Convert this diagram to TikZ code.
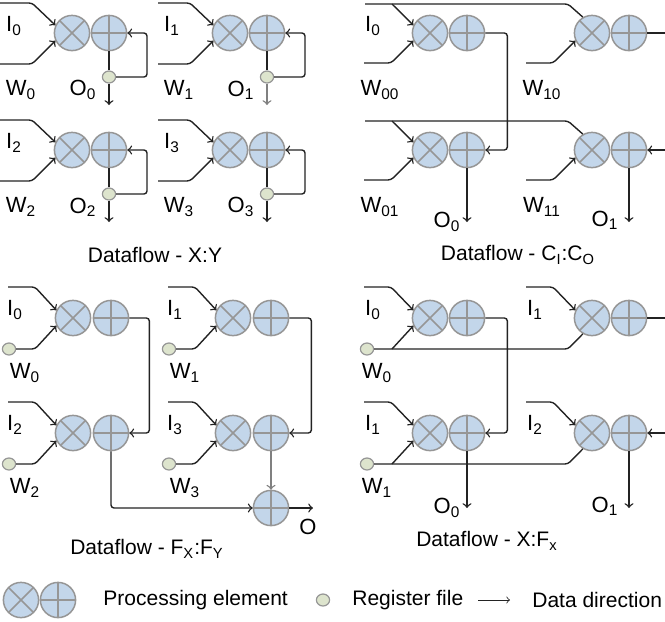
\documentclass[tikz,border=0pt]{standalone}
\usepackage{fontspec}
\setmainfont{Liberation Sans}
\usetikzlibrary{shapes.geometric}
\definecolor{pefill}{RGB}{195,214,234}
\definecolor{peline}{RGB}{150,150,150}
\definecolor{rffill}{RGB}{221,228,205}
\definecolor{wirecol}{RGB}{35,35,35}
\tikzset{
  pe/.style={circle, draw=peline, fill=pefill, line width=0.75pt, minimum size=17.6pt, inner sep=0pt},
  mul/.style={pe, path picture={\draw[peline, line width=0.75pt]
      (path picture bounding box.north west) -- (path picture bounding box.south east)
      (path picture bounding box.north east) -- (path picture bounding box.south west);}},
  add/.style={pe, path picture={\draw[peline, line width=0.75pt]
      (path picture bounding box.north) -- (path picture bounding box.south)
      (path picture bounding box.west) -- (path picture bounding box.east);}},
  rf/.style={ellipse, draw=peline, fill=rffill, line width=0.6pt, minimum width=6.6pt, minimum height=6pt, inner sep=0pt},
  wire/.style={draw=wirecol, line width=0.7pt, rounded corners=1.5pt},
  lbl/.style={inner sep=0pt, font=\fontsize{11}{13}\selectfont},
  ttl/.style={inner sep=0pt, font=\fontsize{10.5}{12}\selectfont}
}
\begin{document}
\begin{tikzpicture}[x=0.5pt, y=-0.5pt]
   \useasboundingbox (0,0) rectangle (665,622);
   % Dataflow - X:Y
   \foreach \mx/\my/\n/\oc in {72/33/0/wirecol, 230/33/1/gray, 72/150/2/wirecol, 230/150/3/wirecol} {
      \node[mul] (aM\n) at (\mx,\my) {};
      \node[add] (aA\n) at (\mx+37,\my) {};
      \node[rf]  (aR\n) at (\mx+37,\my+44) {};
      \coordinate (aI\n) at (\mx-72,\my-30);
      \coordinate (aW\n) at (\mx-72,\my+31);
      \coordinate (aO\n) at (\mx+37,\my+72);
      \draw[wire,->] (aI\n) -- ++(32,0) -- (aM\n.155);
      \draw[wire,->] (aW\n) -- ++(32,0) -- (aM\n.205);
      \draw[wire] (aA\n.south) -- (aR\n.north);
      \draw[wire,->] (aR\n.east) -- (\mx+75,\my+44) -- (\mx+75,\my) -- (aA\n.east);
      \draw[wire,->,draw=\oc] (aR\n.south) -- (aO\n);
      \node[lbl] (aIl\n) at (\mx-58,\my-7) {I\textsubscript{\n}};
      \node[lbl] (aWl\n) at (\mx-51,\my+57) {W\textsubscript{\n}};
      \node[lbl] (aOl\n) at (\mx+11,\my+57) {O\textsubscript{\n}};
   }
   \node[ttl] (aT) at (155,255) {Dataflow - X:Y};
   % Dataflow - CI:CO
   \foreach \mx/\my/\n in {430/33/00, 592/33/10, 430/150/01, 592/150/11} {
      \node[mul] (bM\n) at (\mx,\my) {};
      \node[add] (bA\n) at (\mx+37,\my) {};
      \coordinate (bW\n) at (\mx-66,\my+30);
      \draw[wire,->] (bW\n) -- ++(27,0) -- (bM\n.205);
      \node[lbl] (bWl\n) at (\mx-50,\my+57) {W\textsubscript{\n}};
   }
   \foreach \my/\rw in {33/0, 150/1} {
      \coordinate (bI\rw) at (365,\my-29);
      \coordinate (bJ\rw) at (392,\my-29);
      \draw[wire] (bI\rw) -- (568,\my-29) -- (bM1\rw.120);
      \draw[wire,->] (bJ\rw) -- (bM0\rw.155);
   }
   \draw[wire,->] (bA00.east) -- ++(22,0) |- (bA01.east);
   \coordinate (bE0) at (665,33);
   \coordinate (bE1) at (665,150);
   \draw[wire] (bA10.east) -- (bE0);
   \draw[wire,->] (bE1) -- (bA11.east);
   \coordinate (bO0) at (467,222);
   \coordinate (bO1) at (629,222);
   \draw[wire,->] (bA01.south) -- (bO0);
   \draw[wire,->] (bA11.south) -- (bO1);
   \node[lbl] (bIl) at (373,26) {I\textsubscript{0}};
   \node[lbl] (bOl0) at (447,222) {O\textsubscript{0}};
   \node[lbl] (bOl1) at (605,220) {O\textsubscript{1}};
   \node[ttl] (bT) at (518,255) {Dataflow - C\textsubscript{I}:C\textsubscript{O}};
   % Dataflow - FX:FY
   \foreach \mx/\my/\n in {73/318/0, 233/318/1, 73/433/2, 233/433/3} {
      \node[mul] (cM\n) at (\mx,\my) {};
      \node[add] (cA\n) at (\mx+38,\my) {};
      \node[rf]  (cR\n) at (\mx-64,\my+31) {};
      \coordinate (cI\n) at (\mx-65,\my-31);
      \draw[wire,->] (cI\n) -- ++(27,0) -- (cM\n.155);
      \draw[wire,->] (cR\n.east) -- (\mx-38,\my+31) -- (cM\n.205);
      \node[lbl] (cIl\n) at (\mx-58,\my-8) {I\textsubscript{\n}};
      \node[lbl] (cWl\n) at (\mx-48,\my+55) {W\textsubscript{\n}};
   }
   \draw[wire,->] (cA0.east) -- ++(20,0) |- (cA2.east);
   \draw[wire,->] (cA1.east) -- ++(22,0) |- (cA3.east);
   \node[add] (cF) at (271,508) {};
   \draw[wire,->] (cA2.south) |- (cF.west);
   \draw[wire,->,draw=gray] (cA3.south) -- (cF.north);
   \coordinate (cO) at (313,508);
   \draw[wire,->] (cF.east) -- (cO);
   \node[lbl] (cOl) at (308,527) {O};
   \node[ttl] (cT) at (147,549) {Dataflow - F\textsubscript{X}:F\textsubscript{Y}};
   % Dataflow - X:Fx
   \foreach \mx/\my/\n/\i in {430/318/00/0, 592/318/10/1, 430/433/01/1, 592/433/11/2} {
      \node[mul] (dM\n) at (\mx,\my) {};
      \node[add] (dA\n) at (\mx+37,\my) {};
      \coordinate (dI\n) at (\mx-66,\my-31);
      \draw[wire,->] (dI\n) -- ++(27,0) -- (dM\n.155);
      \node[lbl] (dIl\n) at (\mx-57,\my-8) {I\textsubscript{\i}};
   }
   \foreach \my/\rw in {318/0, 433/1} {
      \node[rf] (dR\rw) at (367,\my+31) {};
      \coordinate (dJ\rw) at (392,\my+31);
      \draw[wire] (dR\rw.east) -- (568,\my+31) -- (dM1\rw.240);
      \draw[wire,->] (dJ\rw) -- (dM0\rw.205);
      \node[lbl] (dWl\rw) at (377,\my+55) {W\textsubscript{\rw}};
   }
   \draw[wire,->] (dA00.east) -- ++(22,0) |- (dA01.east);
   \coordinate (dE0) at (665,318);
   \coordinate (dE1) at (665,433);
   \draw[wire] (dA10.east) -- (dE0);
   \draw[wire,->] (dE1) -- (dA11.east);
   \coordinate (dO0) at (467,508);
   \coordinate (dO1) at (629,508);
   \draw[wire,->] (dA01.south) -- (dO0);
   \draw[wire,->] (dA11.south) -- (dO1);
   \node[lbl] (dOl0) at (447,508) {O\textsubscript{0}};
   \node[lbl] (dOl1) at (605,506) {O\textsubscript{1}};
   \node[ttl] (dT) at (487,541) {Dataflow - X:F\textsubscript{x}};
   % legend
   \node[mul] (lM) at (21,600) {};
   \node[add] (lA) at (58,600) {};
   \node[ttl, anchor=west] (lPE) at (103,600) {Processing element};
   \node[rf] (lR) at (323,600) {};
   \node[ttl, anchor=west] (lRF) at (352,600) {Register file};
   \coordinate (lS) at (478,600);
   \coordinate (lT) at (510,600);
   \draw[wire,->,line width=0.4pt] (lS) -- (lT);
   \node[ttl, anchor=west] (lDD) at (532,600) {Data direction};
\end{tikzpicture}
\end{document}
